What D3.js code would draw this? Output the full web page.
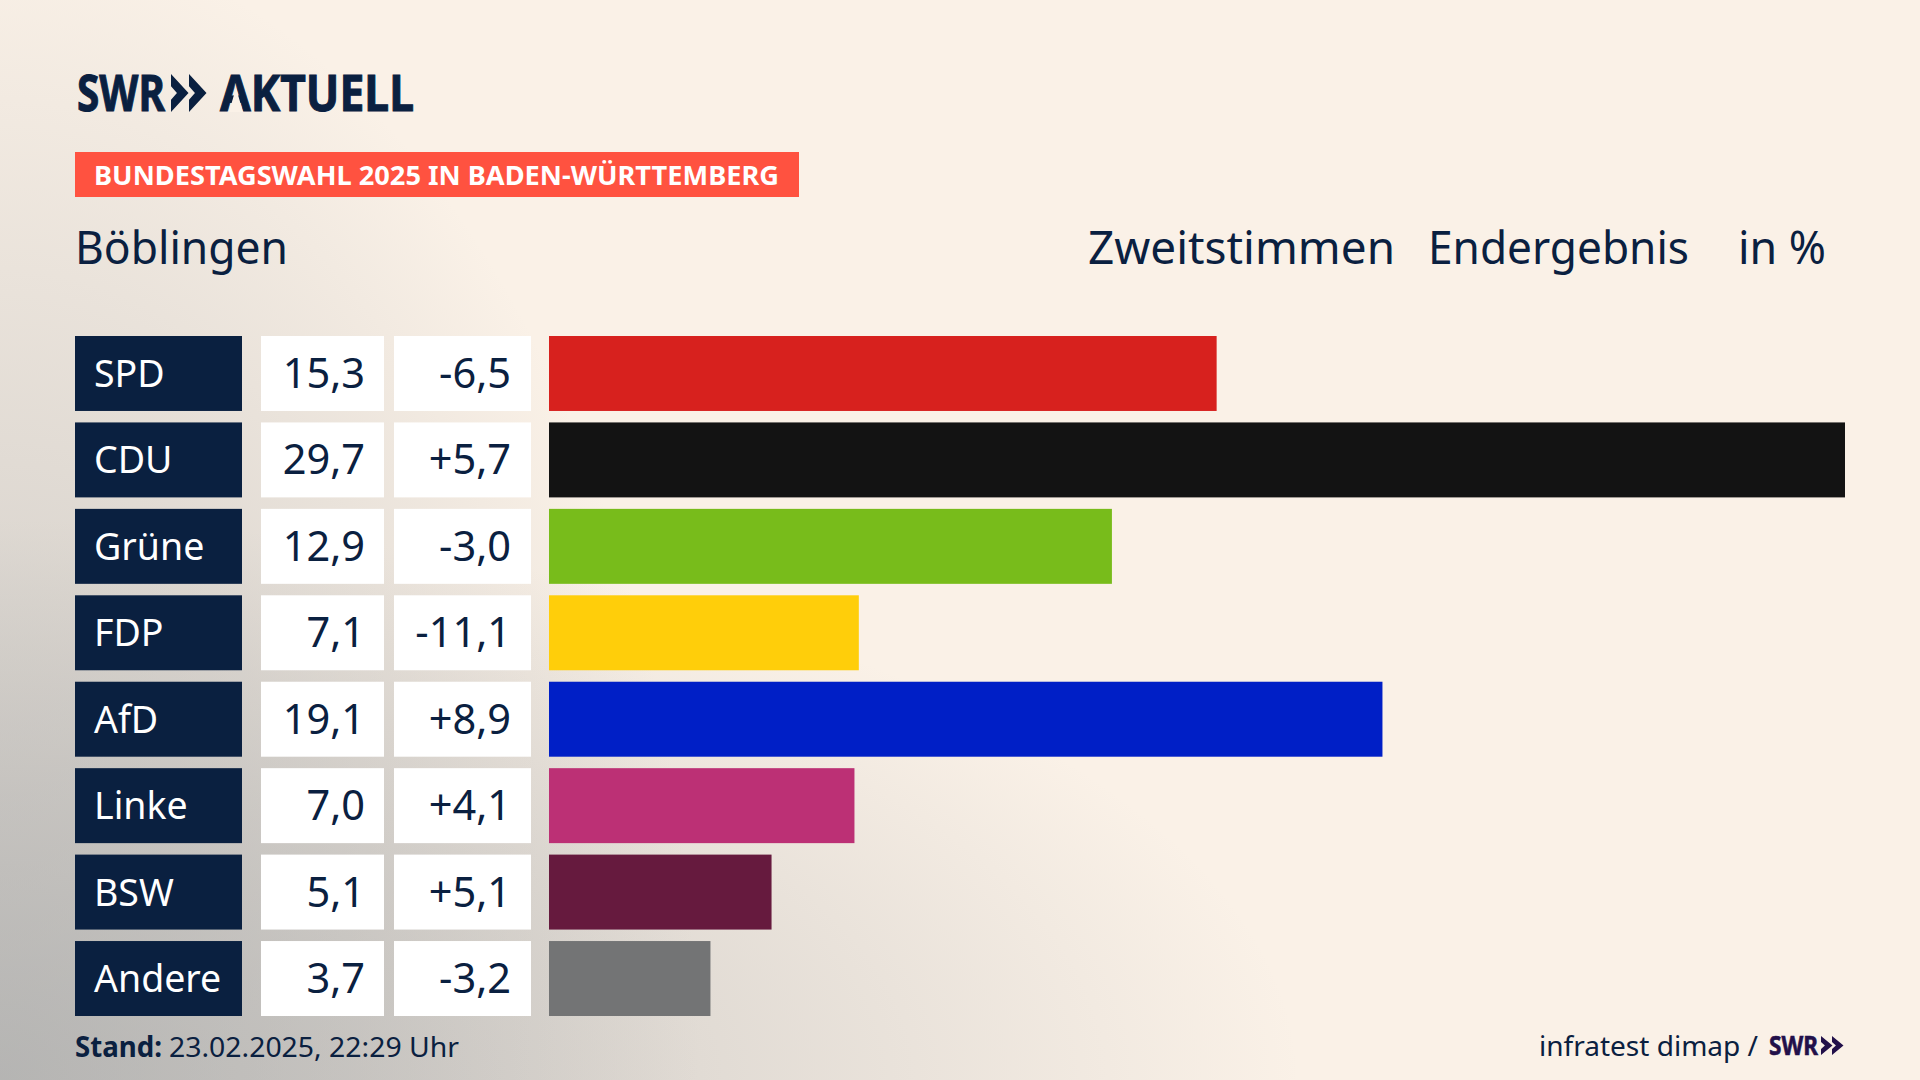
<!DOCTYPE html>
<html lang="de">
<head>
<meta charset="utf-8">
<title>Böblingen Zweitstimmen</title>
<script src="https://cdn.jsdelivr.net/npm/d3@7"></script>
<style>
  html, body { margin: 0; padding: 0; background: #faf1e7; }
  svg { display: block; }
  text { font-family: "Noto Sans", sans-serif; }
</style>
</head>
<body>
<svg id="chart" width="1920" height="1080"></svg>
<script>
// the data
var parties = ["SPD", "CDU", "Grüne", "FDP", "AfD", "Linke", "BSW", "Andere"];
var shares = [15.3, 29.7, 12.9, 7.1, 19.1, 7.0, 5.1, 3.7];
var changes = [-6.5, 5.7, -3.0, -11.1, 8.9, 4.1, 5.1, -3.2];
var partyColors = ["#d7211e", "#131313", "#78bc1b", "#ffce0a", "#001fc6", "#bc3075", "#661a3e", "#737475"];

var navy = "#0a2040";
var cream = "#faf1e7";
var svg = d3.select("#chart");

// german number format, comma and plain minus
var locale = d3.formatLocale({ decimal: ",", thousands: ".", grouping: [3], currency: ["", " €"], minus: "-" });
var fmtShare = locale.format(".1f");
var fmtChange = locale.format("+.1f");

// background: two grey glows out of the bottom left corner, one along each edge
var defs = svg.append("defs");
function glow(id, rx, ry) {
    var g = defs.append("radialGradient")
        .attr("id", id)
        .attr("gradientUnits", "userSpaceOnUse")
        .attr("cx", 0).attr("cy", 0).attr("r", 1)
        .attr("gradientTransform", "translate(0,1080) scale(" + rx + "," + ry + ")");
    [[0, 0.6], [0.5, 0.33], [1, 0]].forEach(function (s) {
        g.append("stop").attr("offset", s[0]).attr("stop-color", "#a8a9a9").attr("stop-opacity", s[1]);
    });
}
glow("glowBottom", 1300, 560);
glow("glowLeft", 700, 1150);
svg.append("rect").attr("width", 1920).attr("height", 1080).attr("fill", cream);
svg.append("rect").attr("width", 1920).attr("height", 1080).attr("fill", "url(#glowBottom)");
svg.append("rect").attr("width", 1920).attr("height", 1080).attr("fill", "url(#glowLeft)");

// scales
var y = d3.scaleBand().domain(parties).range([336, 1016]).paddingInner(0.1327);
var x = d3.scaleLinear().domain([0, d3.max(shares)]).range([549, 1845]);

var rows = svg.append("g").selectAll("g")
    .data(parties)
    .join("g")
    .attr("transform", function (d) { return "translate(0," + y(d) + ")"; });

// navy name box
rows.append("rect").attr("x", 75).attr("width", 167).attr("height", y.bandwidth()).attr("fill", navy);
rows.append("text").attr("x", 94).attr("y", 51)
    .attr("font-size", 37.5).attr("fill", "#fff")
    .text(function (d) { return d; });

// white number boxes
rows.append("rect").attr("x", 261).attr("width", 123).attr("height", y.bandwidth()).attr("fill", "#fff");
rows.append("text").attr("x", 365).attr("y", 52)
    .attr("text-anchor", "end").attr("font-size", 41.5).attr("fill", navy)
    .text(function (d, i) { return fmtShare(shares[i]); });

rows.append("rect").attr("x", 394).attr("width", 137).attr("height", y.bandwidth()).attr("fill", "#fff");
rows.append("text").attr("x", 511).attr("y", 52)
    .attr("text-anchor", "end").attr("font-size", 41.5).attr("fill", navy)
    .text(function (d, i) { return fmtChange(changes[i]); });

// bars
rows.append("rect")
    .attr("x", x(0))
    .attr("width", function (d, i) { return x(shares[i]) - x(0); })
    .attr("height", y.bandwidth())
    .attr("fill", function (d, i) { return partyColors[i]; });

// chevrons of the logo
function chevrons(g, left, top, h, w, gap, color) {
    [0, 1].forEach(function (k) {
        var a = left + k * gap;
        var pts = [[a, top], [a + w, top + h / 2], [a, top + h], [a, top + h * 0.68], [a + w * 0.34, top + h / 2], [a, top + h * 0.32]];
        g.append("polygon").attr("points", pts.join(" ")).attr("fill", color);
    });
}

// logo on top
var logo = svg.append("g");
logo.append("text").attr("x", 77).attr("y", 111)
    .attr("font-size", 51).attr("font-weight", 700).attr("fill", navy)
    .attr("stroke", navy).attr("stroke-width", 1)
    .attr("textLength", 88).attr("lengthAdjust", "spacingAndGlyphs").text("SWR");
chevrons(logo, 171, 74, 38, 17.5, 18, navy);
logo.append("text").attr("x", 220).attr("y", 111)
    .attr("font-size", 51).attr("font-weight", 700).attr("fill", navy)
    .attr("stroke", navy).attr("stroke-width", 1)
    .attr("textLength", 194).attr("lengthAdjust", "spacingAndGlyphs").text("AKTUELL");
// the A of the logo has no crossbar
logo.append("polygon").attr("points", "236,88 229,112 243,112").attr("fill", cream);

// red badge
svg.append("rect").attr("x", 75).attr("y", 152).attr("width", 724).attr("height", 45).attr("fill", "#ff5240");
svg.append("text").attr("x", 94).attr("y", 185)
    .attr("font-size", 27).attr("font-weight", 700).attr("fill", "#fff")
    .attr("textLength", 685).attr("lengthAdjust", "spacingAndGlyphs").text("BUNDESTAGSWAHL 2025 IN BADEN-WÜRTTEMBERG");

// headers
var heads = [["Böblingen", 75, 213], ["Zweitstimmen", 1088, 307], ["Endergebnis", 1428, 261], ["in %", 1738, 88]];
svg.append("g").selectAll("text")
    .data(heads)
    .join("text")
    .attr("x", function (d) { return d[1]; })
    .attr("y", 264)
    .attr("font-size", 45).attr("fill", navy)
    .attr("textLength", function (d) { return d[2]; })
    .attr("lengthAdjust", "spacingAndGlyphs")
    .text(function (d) { return d[0]; });

// footer
svg.append("text").attr("x", 75).attr("y", 1057)
    .attr("font-size", 28).attr("font-weight", 700).attr("fill", navy)
    .attr("textLength", 87).attr("lengthAdjust", "spacingAndGlyphs").text("Stand:");
svg.append("text").attr("x", 169).attr("y", 1057)
    .attr("font-size", 28).attr("fill", navy)
    .attr("textLength", 290).attr("lengthAdjust", "spacingAndGlyphs").text("23.02.2025, 22:29 Uhr");
svg.append("text").attr("x", 1539).attr("y", 1056)
    .attr("font-size", 28).attr("fill", navy)
    .attr("textLength", 219).attr("lengthAdjust", "spacingAndGlyphs").text("infratest dimap /");
svg.append("text").attr("x", 1769).attr("y", 1055)
    .attr("font-size", 27).attr("font-weight", 700).attr("fill", "#22104a")
    .attr("stroke", "#22104a").attr("stroke-width", 0.6)
    .attr("textLength", 49).attr("lengthAdjust", "spacingAndGlyphs").text("SWR");
chevrons(svg, 1821, 1036, 19, 11.5, 11, "#22104a");
</script>
</body>
</html>
